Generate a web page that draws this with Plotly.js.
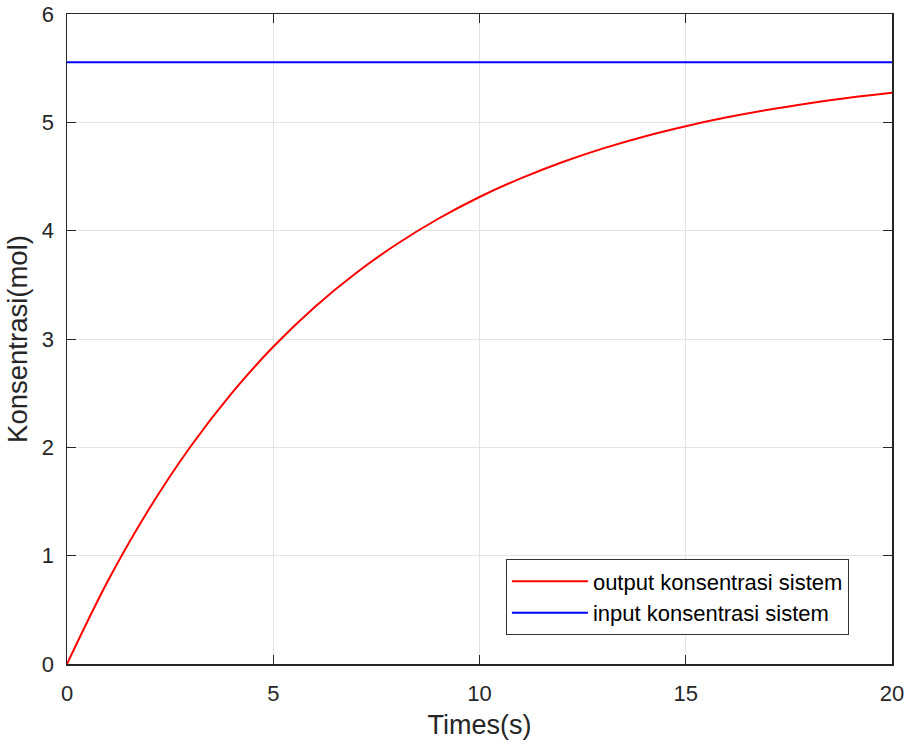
<!DOCTYPE html>
<html>
<head>
<meta charset="utf-8">
<script src="https://cdn.plot.ly/plotly-3.0.1.min.js"></script>
<style>html,body{margin:0;padding:0;background:#fff;}#chart{width:907px;height:746px;}</style>
</head>
<body>
<div id="chart"></div>
<script>
const timeS = [0,1,2,3,4,5,6,7,8,9,10,11,12,13,14,15,16,17,18,19,20];
const outputKonsentrasi = [0,0.773,1.437,2.010,2.503,2.928,3.293,3.607,3.877,4.110,4.311,4.483,4.632,4.760,4.870,4.964,5.046,5.116,5.176,5.229,5.273];
const inputTime = [0,20];
const inputKonsentrasi = [5.555,5.555];
const xTicks = [0,5,10,15,20];
const yTicks = [0,1,2,3,4,5,6];

const FONT = 'Liberation Sans, Arial, sans-serif';
const traces = [
  {x: timeS, y: outputKonsentrasi, mode:'lines', line:{color:'#ff0000', width:2, shape:'spline', smoothing:1}, name:'output konsentrasi sistem'},
  {x: inputTime, y: inputKonsentrasi, mode:'lines', line:{color:'#0000ff', width:2}, name:'input konsentrasi sistem'}
];
const axisCommon = {
  showline:true, linecolor:'#262626', linewidth:1.5, mirror:'ticks',
  ticks:'inside', ticklen:9, tickcolor:'#262626', tickwidth:1,
  showgrid:true, gridcolor:'#e3e3e3', gridwidth:1, zeroline:false,
  tickfont:{family:FONT, size:22, color:'#262626'}
};
const layout = {
  width:907, height:746,
  margin:{l:67, r:15, t:14, b:82},
  paper_bgcolor:'#ffffff', plot_bgcolor:'#ffffff',
  showlegend:true,
  xaxis: Object.assign({}, axisCommon, {range:[0,20], tickvals:xTicks, ticktext:xTicks.map(String), ticklabelstandoff:9,
    title:{text:'Times(s)', font:{family:FONT, size:27, color:'#262626'}, standoff:10}}),
  yaxis: Object.assign({}, axisCommon, {range:[0,6], tickvals:yTicks, ticktext:yTicks.map(String), ticklabelstandoff:7,
    title:{text:'Konsentrasi(mol)', font:{family:FONT, size:27.5, color:'#262626'}, standoff:6}}),
  legend:{x:0.532, y:0.161, xanchor:'left', yanchor:'top', bgcolor:'#ffffff', bordercolor:'#333333', borderwidth:1,
    font:{family:FONT, size:22, color:'#000'}, itemwidth:76, tracegroupgap:0}
};
Plotly.newPlot('chart', traces, layout, {displayModeBar:false, staticPlot:true});
</script>
</body>
</html>
